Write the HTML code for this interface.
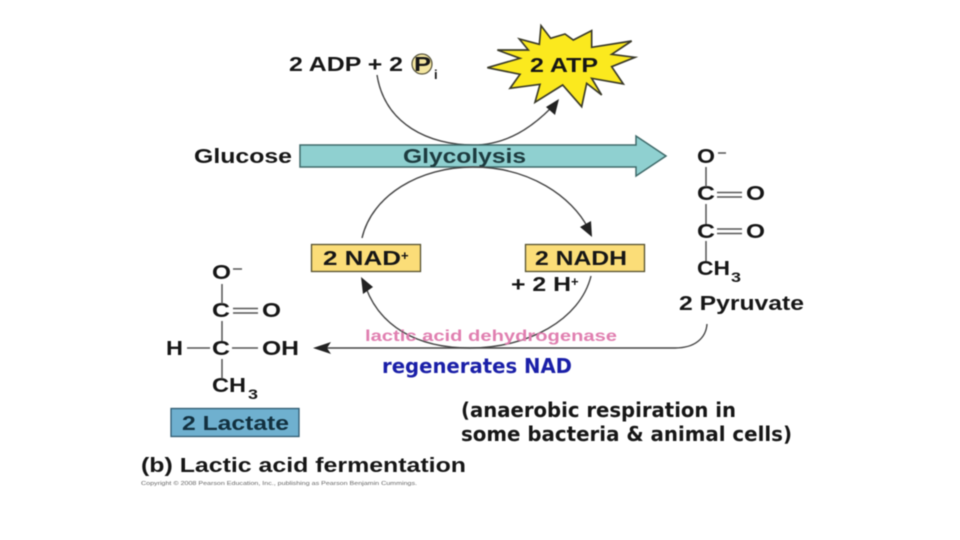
<!DOCTYPE html>
<html><head><meta charset="utf-8">
<style>
html,body{margin:0;padding:0;background:#fff;width:960px;height:540px;overflow:hidden}
svg{display:block;filter:blur(.45px)}
text{font-family:"Liberation Sans",sans-serif;font-weight:700;fill:#161616;font-size:20px}
.d{font-family:"DejaVu Sans",sans-serif;font-size:20px}
.s{font-size:13px}
</style></head><body>
<svg width="960" height="540" viewBox="0 0 960 540" xmlns="http://www.w3.org/2000/svg">
<!-- star -->
<g transform="translate(480,15) scale(.33333)">
<polygon fill="#fbe91e" stroke="#3a3a2a" stroke-width="5" stroke-linejoin="miter" points="183,32 212,70 255,57 280,75 335,47 335,97 455,78 395,118 465,127 395,155 430,207 335,190 365,240 320,205 305,275 248,210 165,262 180,208 90,220 120,178 22,158 120,130 52,105 145,105 118,72 178,88"/>
</g>
<text x="530" y="72" textLength="68" lengthAdjust="spacingAndGlyphs">2 ATP</text>
<!-- top label -->
<text x="289" y="71" textLength="114" lengthAdjust="spacingAndGlyphs">2 ADP + 2</text>
<circle cx="422" cy="64" r="10" fill="#f4e6a0" stroke="#55523a" stroke-width="1.2"/>
<text x="414" y="71" textLength="17" lengthAdjust="spacingAndGlyphs">P</text>
<text x="434" y="79" class="s">i</text>
<!-- top arc -->
<path d="M377,75 C385,125 430,145 473,145 C508,145 533,126 551,108" fill="none" stroke="#444" stroke-width="1.4"/>
<polygon points="559,99 555,115 546,107" fill="#222"/>
<!-- glycolysis arrow -->
<polygon points="300,145 636,145 636,136 666,156 636,176 636,167 300,167" fill="#8fd0d0" stroke="#3f6a6a" stroke-width="1.5"/>
<text x="194" y="163" textLength="98" lengthAdjust="spacingAndGlyphs">Glucose</text>
<text x="403" y="163" textLength="123" lengthAdjust="spacingAndGlyphs" style="fill:#1d3b3f">Glycolysis</text>
<!-- lower circle -->
<path d="M362,238 C372,195 420,167 473,167 C530,167 572,197 588,228" fill="none" stroke="#444" stroke-width="1.4"/>
<polygon points="592,237 580,227 591,221" fill="#222"/>
<path d="M591,276 C580,320 528,348 470,348 C415,348 380,325 366,288" fill="none" stroke="#444" stroke-width="1.4"/>
<polygon points="361,277 373,287 363,294" fill="#222"/>
<!-- boxes -->
<rect x="311.500" y="244.500" width="109" height="27" fill="#fbdd78" stroke="#55502f" stroke-width="1.300"/>
<text x="323" y="265" textLength="78" lengthAdjust="spacingAndGlyphs">2 NAD</text>
<text x="401" y="260" class="s">+</text>
<rect x="525.500" y="244.500" width="119" height="27" fill="#fbdd78" stroke="#55502f" stroke-width="1.300"/>
<text x="535" y="265" textLength="92" lengthAdjust="spacingAndGlyphs">2 NADH</text>
<text x="511" y="291" textLength="60" lengthAdjust="spacingAndGlyphs">+ 2 H</text>
<text x="571" y="286" class="s">+</text>
<!-- long arrow -->
<path d="M707,324 C706,338 695,348 675,348 L322,348" fill="none" stroke="#444" stroke-width="1.400"/>
<polygon points="313,348 331,342 327,348 331,354" fill="#222"/>
<text x="365" y="341" style="font-size:15.500px;fill:#e07fb0" textLength="252" lengthAdjust="spacingAndGlyphs">lactic acid dehydrogenase</text>
<text x="382" y="373" class="d" style="fill:#1a1fa8" textLength="190" lengthAdjust="spacingAndGlyphs">regenerates NAD</text>
<!-- pyruvate -->
<text x="697" y="163" textLength="18" lengthAdjust="spacingAndGlyphs">O</text>
<text x="697" y="200" textLength="18" lengthAdjust="spacingAndGlyphs">C</text>
<text x="746" y="200" textLength="19" lengthAdjust="spacingAndGlyphs">O</text>
<text x="697" y="238" textLength="18" lengthAdjust="spacingAndGlyphs">C</text>
<text x="746" y="238" textLength="19" lengthAdjust="spacingAndGlyphs">O</text>
<text x="697" y="275" textLength="33" lengthAdjust="spacingAndGlyphs">CH</text>
<text x="731" y="282" textLength="10" lengthAdjust="spacingAndGlyphs" style="font-size:14px">3</text>
<text x="679" y="310" textLength="125" lengthAdjust="spacingAndGlyphs">2 Pyruvate</text>
<g stroke="#555" stroke-width="1.500" fill="none">
<path d="M706,167 V187 M706,204 V224 M706,241 V261"/>
<path d="M717,192.500 H742 M717,197 H742 M717,229 H742 M717,233.500 H742"/>
<path d="M718,153 H726"/>
</g>
<!-- lactate -->
<text x="212" y="279" textLength="19" lengthAdjust="spacingAndGlyphs">O</text>
<text x="212" y="317" textLength="18" lengthAdjust="spacingAndGlyphs">C</text>
<text x="262" y="317" textLength="19" lengthAdjust="spacingAndGlyphs">O</text>
<text x="166" y="355" textLength="17" lengthAdjust="spacingAndGlyphs">H</text>
<text x="212" y="355" textLength="18" lengthAdjust="spacingAndGlyphs">C</text>
<text x="262" y="355" textLength="37" lengthAdjust="spacingAndGlyphs">OH</text>
<text x="212" y="392" textLength="34" lengthAdjust="spacingAndGlyphs">CH</text>
<text x="248" y="399" textLength="10" lengthAdjust="spacingAndGlyphs" style="font-size:14px">3</text>
<g stroke="#555" stroke-width="1.500" fill="none">
<path d="M222,284 V304 M222,321 V341 M222,359 V379"/>
<path d="M233,308.500 H258 M233,313 H258"/>
<path d="M187,348 H210 M232,348 H258"/>
<path d="M233,269 H242"/>
</g>
<rect x="171" y="408.500" width="128" height="28" fill="#6fb0cf" stroke="#2f5a70" stroke-width="1.300"/>
<text x="182" y="430" style="fill:#12303f" textLength="107" lengthAdjust="spacingAndGlyphs">2 Lactate</text>
<!-- notes -->
<text x="461" y="417" class="d" textLength="275" lengthAdjust="spacingAndGlyphs">(anaerobic respiration in</text>
<text x="461" y="441" class="d" textLength="331" lengthAdjust="spacingAndGlyphs">some bacteria &amp; animal cells)</text>
<text x="141" y="472" textLength="325" lengthAdjust="spacingAndGlyphs">(b) Lactic acid fermentation</text>
<text x="141" y="485" style="font-size:5.500px;font-weight:400;fill:#666" textLength="276" lengthAdjust="spacingAndGlyphs">Copyright © 2008 Pearson Education, Inc., publishing as Pearson Benjamin Cummings.</text>
</svg>
</body></html>
